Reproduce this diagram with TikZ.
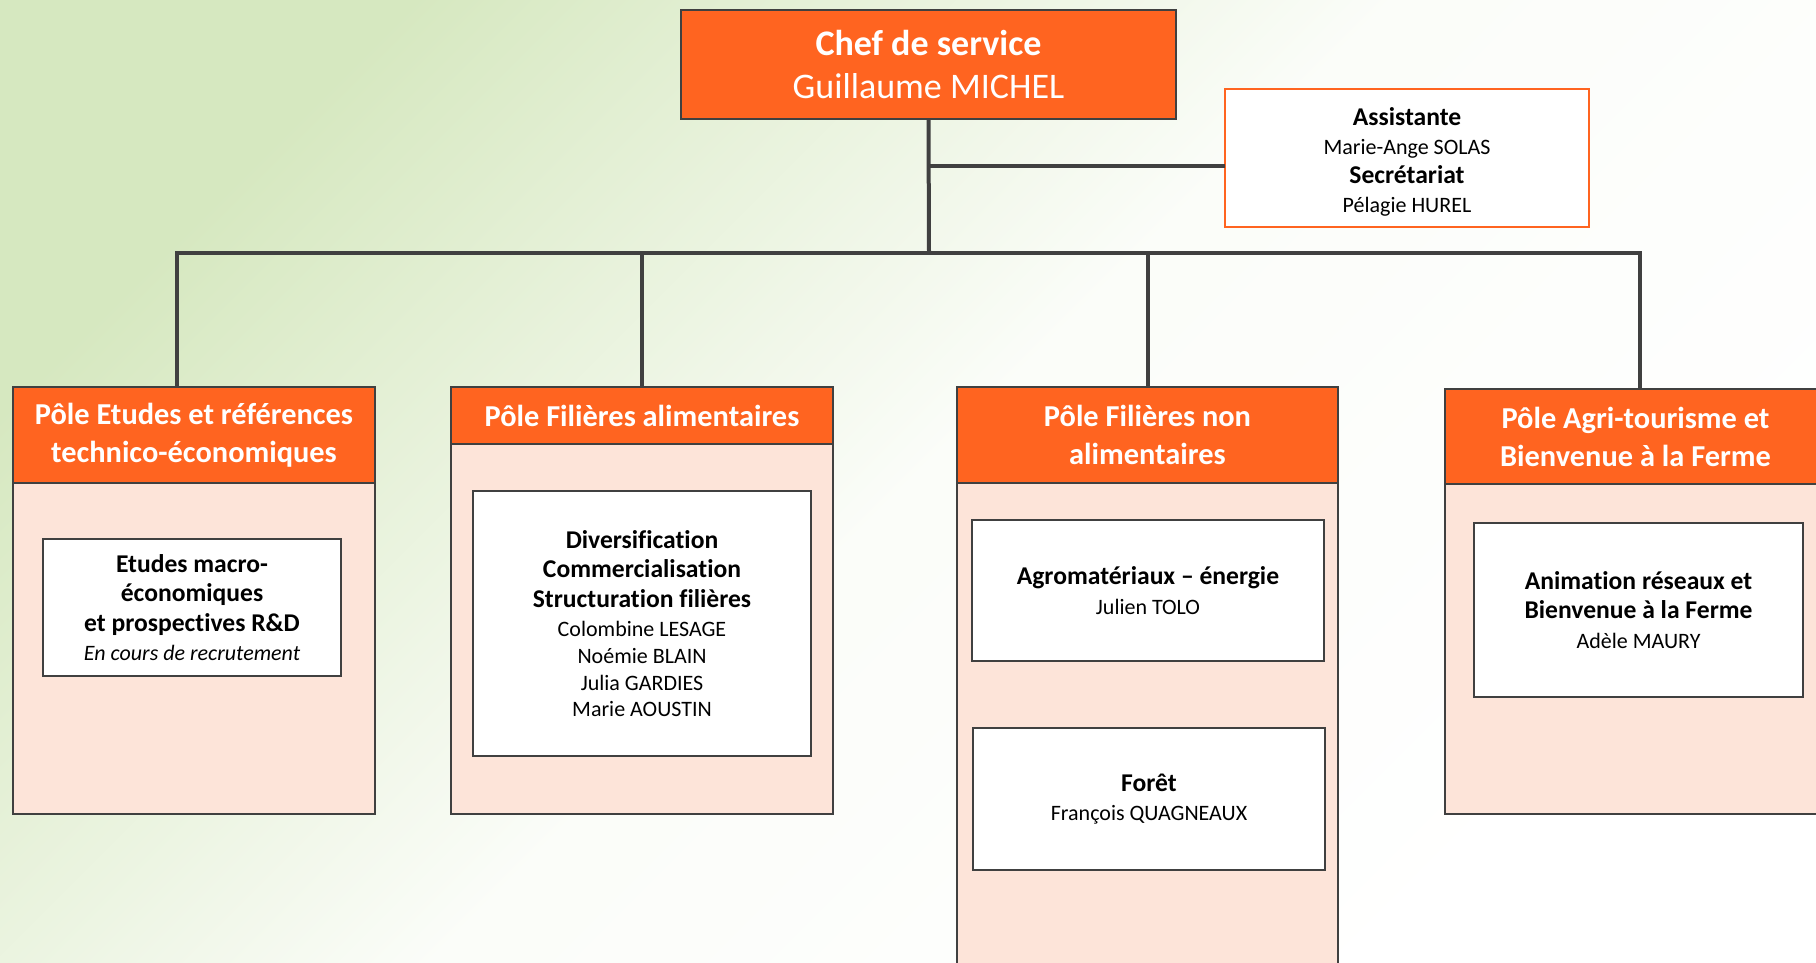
\documentclass[tikz,border=0pt]{standalone}
\usepackage{fontspec}
\setmainfont{Carlito}[Ligatures=NoCommon]
\usetikzlibrary{positioning}

\definecolor{poleorange}{HTML}{FF6420}
\definecolor{polepink}{HTML}{FDE4D9}
\definecolor{linegray}{HTML}{404040}
\definecolor{bggreen}{HTML}{D6E8C0}

% bold title line inside a unit box
\newcommand{\ut}[1]{{\fontsize{12.8}{15}\selectfont\bfseries #1}}

\begin{document}
\begin{tikzpicture}[
    x=0.5pt, y=-0.5pt,
    every node/.style={inner sep=0pt, outer sep=0pt, align=center},
    chefbox/.style={rectangle, draw=linegray, line width=1.2pt, fill=poleorange, text=white,
        minimum width=247.5pt, minimum height=54.5pt, font=\fontsize{18}{21.5}\selectfont},
    assistbox/.style={rectangle, draw=poleorange, line width=1pt, fill=white,
        minimum width=182pt, minimum height=69pt, font=\fontsize{11}{13}\selectfont},
    polehead/.style={rectangle, draw=linegray, line width=0.8pt, fill=poleorange, text=white,
        font=\fontsize{15.2}{19}\selectfont\bfseries},
    polebody/.style={rectangle, draw=linegray, line width=0.8pt, fill=polepink},
    unitbox/.style={rectangle, draw=linegray, line width=0.8pt, fill=white,
        font=\fontsize{11}{13.3}\selectfont},
    branch/.style={draw=linegray, line width=2pt, line join=miter}
]
\useasboundingbox (0,0) rectangle (1816,963);
\clip (0,0) rectangle (1816,963);

% Background
\shade[top color=bggreen, bottom color=white, middle color=bggreen!10!white, shading angle=45]
    (0,0) rectangle (1816,963);

% Chef de service
\node[chefbox] (chef) at (928.5,64.5) {\textbf{Chef de service}\\Guillaume MICHEL};
\node[assistbox] (assist) at (1407,158) {};
\node[font=\fontsize{11}{13}\selectfont] (assisttext) at ([yshift=-2pt]assist.center)
    {\ut{Assistante}\\[1.5pt]Marie-Ange SOLAS\\[1.5pt]\ut{Secrétariat}\\[1.5pt]Pélagie HUREL};

% Poles
\node[polehead, minimum width=181pt, minimum height=48pt] (p1) at (194,435)
    {Pôle Etudes et références\\technico-économiques};
\node[polebody, minimum width=181pt, minimum height=165.5pt, below=0pt of p1] (b1) {};

\node[polehead, minimum width=191pt, minimum height=28.5pt] (p2) at (642,415.5)
    {Pôle Filières alimentaires};
\node[polebody, minimum width=191pt, minimum height=185pt, below=0pt of p2] (b2) {};

\node[polehead, minimum width=190.5pt, minimum height=48pt] (p3) at (1147.5,435)
    {Pôle Filières non\\alimentaires};
\node[polebody, minimum width=190.5pt, minimum height=248.5pt, below=0pt of p3] (b3) {};

\node[polehead, minimum width=190.5pt, minimum height=47.5pt] (p4) at (1635.5,436.5)
    {Pôle Agri-tourisme et\\Bienvenue à la Ferme};
\node[polebody, minimum width=190.5pt, minimum height=165pt, below=0pt of p4] (b4) {};

% Units
\node[unitbox, minimum width=149pt, minimum height=68.5pt] (u1) at (192,607.5)
    {\ut{Etudes macro-}\\[1.5pt]\ut{économiques}\\[1.5pt]\ut{et prospectives R\&D}\\[1.5pt]\textit{En cours de recrutement}};
\node[unitbox, minimum width=169pt, minimum height=132.5pt] (u2) at (642,623.5)
    {\ut{Diversification}\\[1.5pt]\ut{Commercialisation}\\[1.5pt]\ut{Structuration filières}\\[1.5pt]Colombine LESAGE\\Noémie BLAIN\\Julia GARDIES\\Marie AOUSTIN};
\node[unitbox, minimum width=176pt, minimum height=70.5pt] (u3) at (1148,590.5)
    {\ut{Agromatériaux – énergie}\\[1.5pt]Julien TOLO};
\node[unitbox, minimum width=176pt, minimum height=71pt] (u4) at (1149,799)
    {\ut{Forêt}\\[1.5pt]François QUAGNEAUX};
\node[unitbox, minimum width=164.5pt, minimum height=87pt] (u5) at (1638.5,610)
    {\ut{Animation réseaux et}\\[1.5pt]\ut{Bienvenue à la Ferme}\\[1.5pt]Adèle MAURY};

% Links
\coordinate (hub) at (929,253);
\coordinate (busL) at (177,253);
\coordinate (busR) at (1640,253);
\draw[branch] (chef.south) -- (hub);
\draw[branch] (chef.south |- 0,166) -- ([yshift=-4pt]assist.west);
\draw[branch] (busL |- p1.north) -- (busL) -- (busR) -- (busR |- p4.north);
\draw[branch] (p2.north |- hub) -- (p2.north);
\draw[branch] (p3.north |- hub) -- (p3.north);

\end{tikzpicture}
\end{document}
